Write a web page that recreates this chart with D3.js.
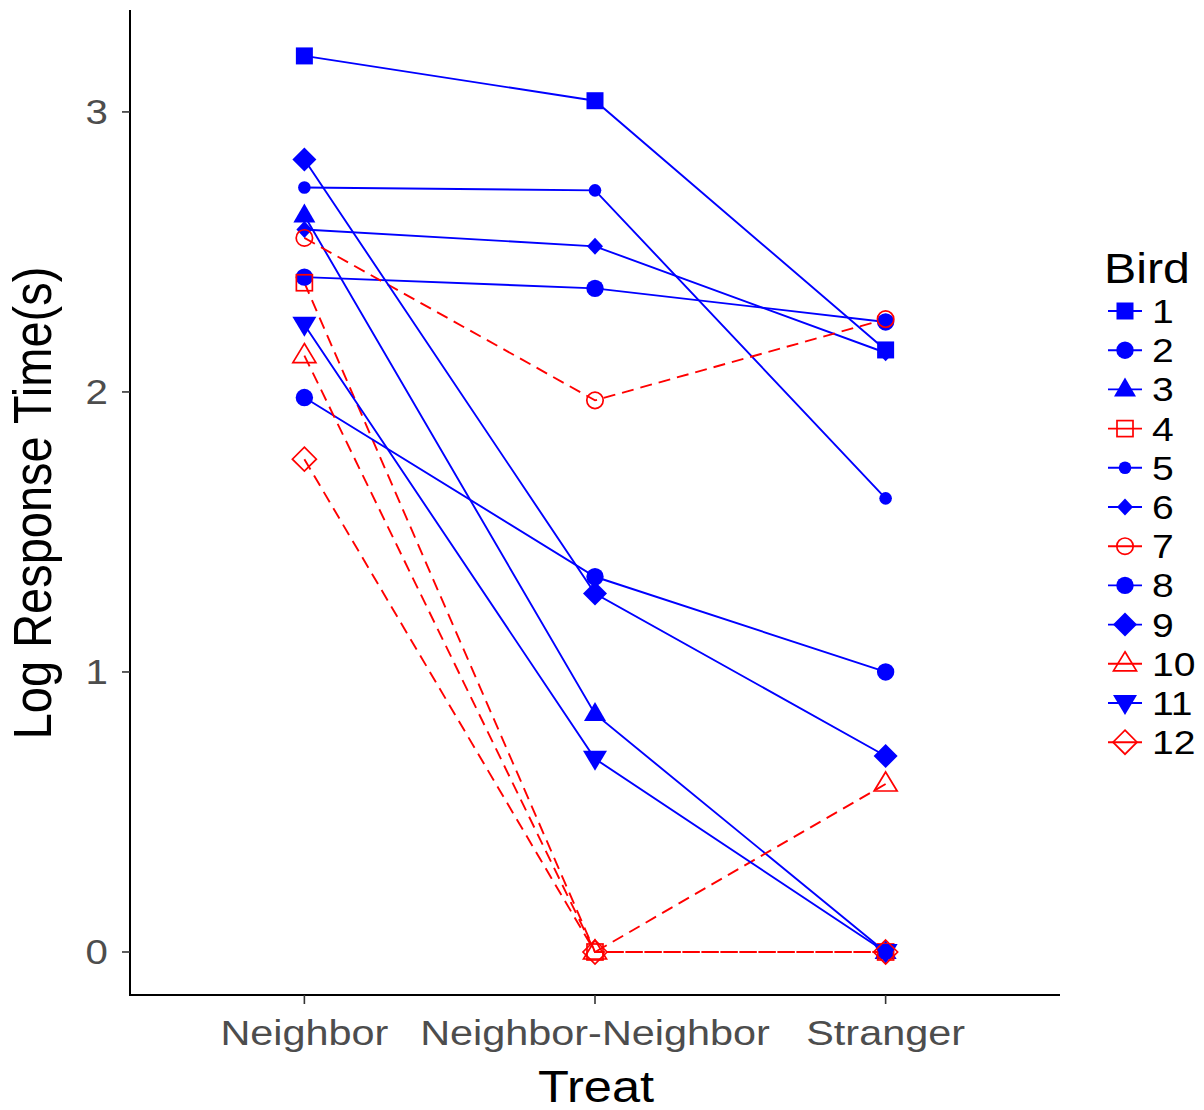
<!DOCTYPE html>
<html>
<head>
<meta charset="utf-8">
<script src="https://cdn.jsdelivr.net/npm/d3@7"></script>
<style>
  body { margin: 0; background: #fff; }
  text { font-family: "Liberation Sans", Arial, sans-serif; }
</style>
</head>
<body>
<div id="chart"></div>
<script>
// ── data ──
const treats = ["Neighbor", "Neighbor-Neighbor", "Stranger"];
const birds = ["1", "2", "3", "4", "5", "6", "7", "8", "9", "10", "11", "12"];
const neighbor = [3.2, 2.41, 2.63, 2.39, 2.73, 2.58, 2.55, 1.98, 2.83, 2.13, 2.24, 1.76];
const neighborNeighbor = [3.04, 2.37, 0.85, 0, 2.72, 2.52, 1.97, 1.34, 1.28, 0, 0.69, 0];
const stranger = [2.15, 2.25, 0, 0, 1.62, 2.14, 2.26, 1.0, 0.7, 0.6, 0, 0];
const group = ["a", "a", "a", "b", "a", "a", "b", "a", "a", "b", "a", "b"];
const yTicks = [0, 1, 2, 3];

// ── styles ──
const col = { a: "#0000FF", b: "#FF0000" };
const shapes = ["sq", "circ", "tri", "osq", "scirc", "sdia", "ocirc", "circ", "dia", "otri", "dtri", "odia"];
const TX = 1.15; // horizontal text stretch

const W = 1204, H = 1110;
const svg = d3.select("#chart").append("svg").attr("width", W).attr("height", H);

const x = d3.scalePoint().domain(treats).range([130, 1060]).padding(0.6);
const y = d3.scaleLinear().domain([-0.1536, 3.364]).range([995, 10]);

const series = birds.map((b, i) => ({
  bird: b,
  grp: group[i],
  shape: shapes[i],
  vals: [neighbor[i], neighborNeighbor[i], stranger[i]].map((v, j) => ({ t: treats[j], v })),
}));

function drawShape(sel, shape, c) {
  const filled = (el) => el.attr("fill", c).attr("stroke", "none");
  const open = (el) => el.attr("fill", "none").attr("stroke", c).attr("stroke-width", 1.7);
  switch (shape) {
    case "sq": filled(sel.append("rect").attr("x", -8.5).attr("y", -8.5).attr("width", 17).attr("height", 17)); break;
    case "osq": open(sel.append("rect").attr("x", -8).attr("y", -8).attr("width", 16).attr("height", 16)); break;
    case "circ": filled(sel.append("circle").attr("r", 8.7)); break;
    case "scirc": filled(sel.append("circle").attr("r", 6.3)); break;
    case "ocirc": open(sel.append("circle").attr("r", 8.2)); break;
    case "tri": filled(sel.append("path").attr("d", "M0,-12L11,7L-11,7Z")); break;
    case "otri": open(sel.append("path").attr("d", "M0,-12L11.5,7L-11.5,7Z")); break;
    case "dtri": filled(sel.append("path").attr("d", "M0,12L12,-8L-12,-8Z")); break;
    case "sdia": filled(sel.append("path").attr("d", "M0,-8.5L8,0L0,8.5L-8,0Z")); break;
    case "dia": filled(sel.append("path").attr("d", "M0,-12L12,0L0,12L-12,0Z")); break;
    case "odia": open(sel.append("path").attr("d", "M0,-12L12,0L0,12L-12,0Z")); break;
  }
}

function stretchText(g, tx, ty, str, opts) {
  return g.append("text")
    .attr("transform", `translate(${tx},${ty}) ${opts.rotate ? "rotate(-90) scale(1," + TX + ")" : "scale(" + TX + ",1)"}`)
    .attr("font-size", opts.size)
    .attr("fill", opts.fill || "#000")
    .attr("text-anchor", opts.anchor || "start")
    .text(str);
}

// ── axes ──
svg.append("line").attr("x1", 130).attr("x2", 130).attr("y1", 10).attr("y2", 996)
  .attr("stroke", "#000").attr("stroke-width", 2);
svg.append("line").attr("x1", 129).attr("x2", 1060).attr("y1", 995).attr("y2", 995)
  .attr("stroke", "#000").attr("stroke-width", 2);

yTicks.forEach((t) => {
  svg.append("line").attr("x1", 122).attr("x2", 130).attr("y1", y(t)).attr("y2", y(t))
    .attr("stroke", "#333").attr("stroke-width", 1.6);
  stretchText(svg, 108, y(t) + 12, String(t), { size: 35, fill: "#4D4D4D", anchor: "end" });
});
treats.forEach((t) => {
  svg.append("line").attr("x1", x(t)).attr("x2", x(t)).attr("y1", 995).attr("y2", 1004)
    .attr("stroke", "#333").attr("stroke-width", 1.6);
  stretchText(svg, x(t), 1045, t, { size: 36, fill: "#4D4D4D", anchor: "middle" });
});
stretchText(svg, 596, 1102, "Treat", { size: 44, anchor: "middle" });
stretchText(svg, 51, 503, "Log Response Time(s)", { size: 47, anchor: "middle", rotate: true });

// ── lines then points ──
const line = d3.line().x((d) => x(d.t)).y((d) => y(d.v));
const plot = svg.append("g");
series.forEach((s) => {
  plot.append("path")
    .attr("d", line(s.vals))
    .attr("fill", "none")
    .attr("stroke", col[s.grp])
    .attr("stroke-width", 1.9)
    .attr("stroke-dasharray", s.grp === "b" ? "12,7" : null);
});
series.forEach((s) => {
  s.vals.forEach((d) => {
    const g = plot.append("g").attr("transform", `translate(${x(d.t)},${y(d.v)})`);
    drawShape(g, s.shape, col[s.grp]);
  });
});

// ── legend ──
const leg = svg.append("g");
stretchText(leg, 1104, 283, "Bird", { size: 42 });
series.forEach((s, i) => {
  const cy = 311 + i * 39.2;
  const k = leg.append("g").attr("transform", `translate(1125,${cy})`);
  k.append("line").attr("x1", -17).attr("x2", 17)
    .attr("stroke", col[s.grp]).attr("stroke-width", 1.9);
  drawShape(k, s.shape, col[s.grp]);
  stretchText(leg, 1152, cy + 12, s.bird, { size: 34 });
});
</script>
</body>
</html>
